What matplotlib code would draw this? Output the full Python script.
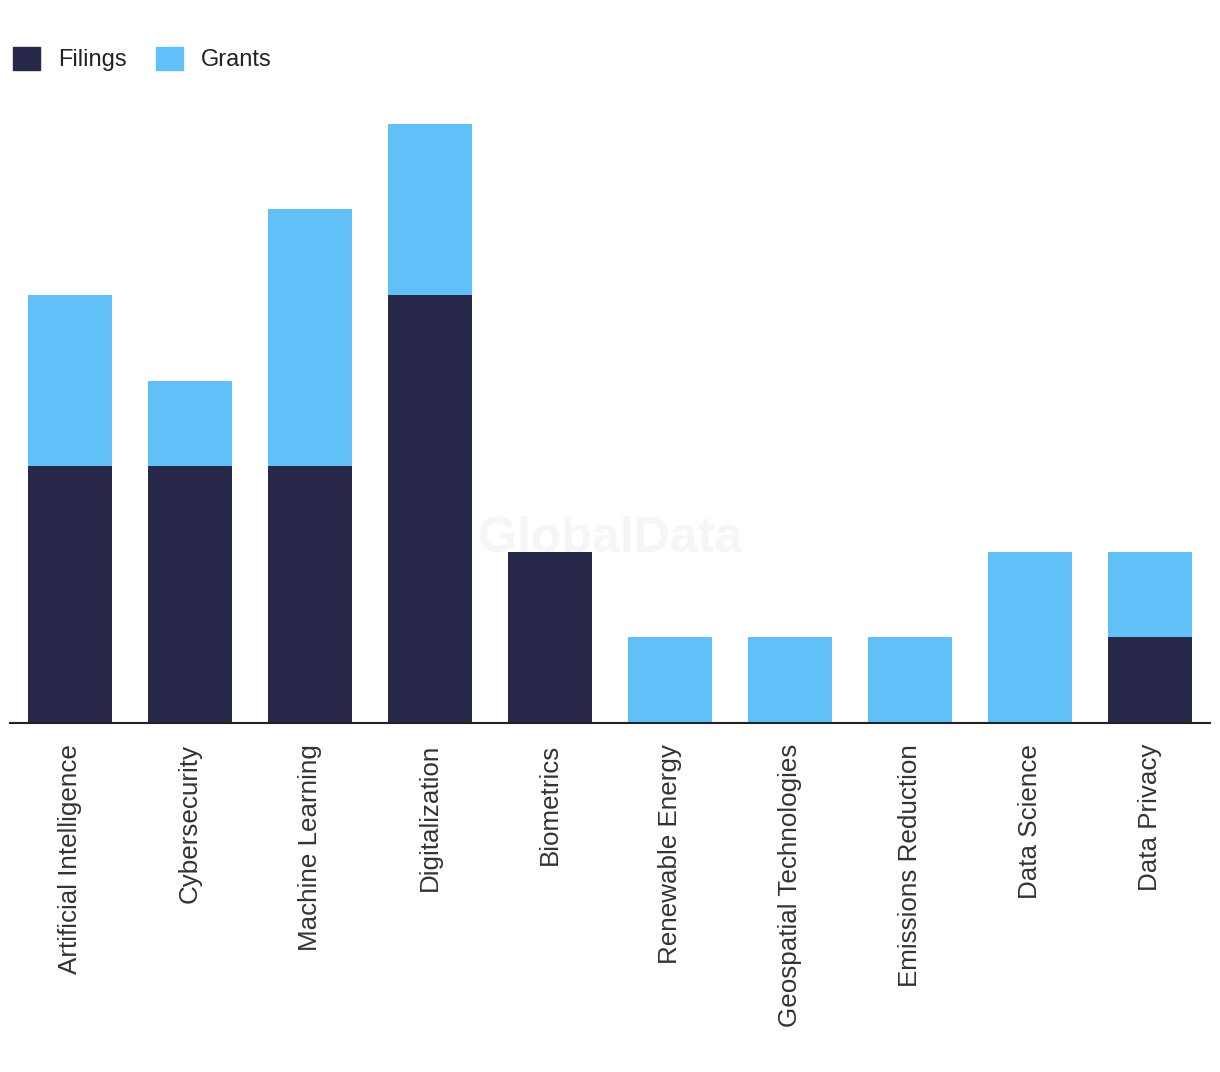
import matplotlib
matplotlib.use('Agg')
from matplotlib import pyplot as plt
from matplotlib.patches import Patch
import numpy as np

categories = ['Artificial Intelligence', 'Cybersecurity', 'Machine Learning',
              'Digitalization', 'Biometrics', 'Renewable Energy',
              'Geospatial Technologies', 'Emissions Reduction', 'Data Science',
              'Data Privacy']
filings = [3, 3, 3, 5, 2, 0, 0, 0, 0, 1]
grants = [2, 1, 3, 2, 0, 1, 1, 1, 2, 1]

dark = '#27284a'
light = '#62c0f8'

plt.rcParams['font.family'] = ['Liberation Sans', 'DejaVu Sans']

fig = plt.figure(figsize=(12.2, 10.72), dpi=100)
ax = fig.add_axes([0.0082, 0.3256, 0.9836, 0.5588])

x = np.arange(len(categories))
ax.bar(x, filings, width=0.7, color=dark)
ax.bar(x, grants, width=0.7, bottom=filings, color=light)

ax.set_xlim(-0.5, len(categories) - 0.5)
ax.set_ylim(0, 7)
ax.set_xticks(x)
ax.set_xticklabels(categories, rotation=90, fontsize=18.7, color='#333333')
ax.tick_params(axis='x', length=0, pad=15)
ax.set_yticks([])
for s in ['left', 'right', 'top']:
    ax.spines[s].set_visible(False)
ax.spines['bottom'].set_color('#222222')
ax.spines['bottom'].set_linewidth(1.5)

# watermark
fig.text(0.5, 0.4975, 'GlobalData', fontsize=36, fontweight='bold',
         color='#f6f6f6', ha='center', va='center', zorder=0)

handles = [Patch(color=dark, label='Filings'), Patch(color=light, label='Grants')]
fig.legend(handles=handles, loc='upper left', bbox_to_anchor=(0.007, 0.961),
           ncol=2, frameon=False, fontsize=17, handlelength=1.15,
           handleheight=1.15, handletextpad=0.75, columnspacing=1.25,
           borderaxespad=0, borderpad=0.2, labelcolor='#222222')

fig.savefig('out.png', dpi=100)
